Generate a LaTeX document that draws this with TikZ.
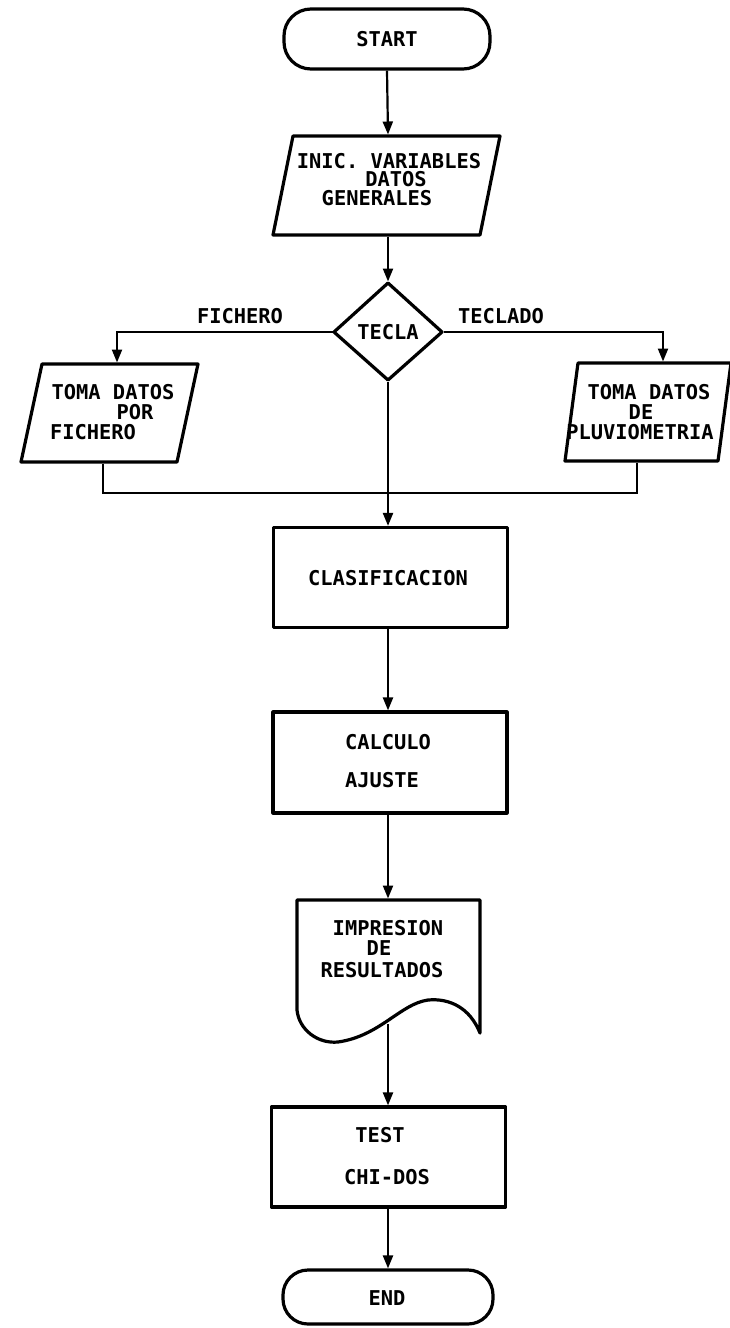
\documentclass[tikz,border=0pt]{standalone}
\usepackage{fontspec}
\newfontfamily\dotfont{DejaVu Sans Mono}
\usetikzlibrary{arrows.meta}

\begin{document}
\begin{tikzpicture}[x=1pt,y=-1pt,
  outline/.style={draw,line width=3.2pt,line join=round},
  link/.style={line width=2.2pt},
  arr/.style={link,-{Triangle[length=13pt,width=10pt]}},
  lbl/.style={font=\dotfont\bfseries\fontsize{20.4}{20}\selectfont,
    inner sep=0pt,text height=14.9pt,text depth=0pt,anchor=center},
  termbox/.style={outline,rounded corners=27pt,minimum width=206pt,minimum height=60pt,inner sep=0pt},
  procbox/.style={outline,minimum width=234pt,minimum height=100pt,inner sep=0pt}
]
\fill[white] (0,0) rectangle (729,1328);
\useasboundingbox (0,0) rectangle (729,1328);

% terminals and process boxes
\node[termbox] (start) at (387,39) {};
\node[lbl] (tstart) at (387,39) {START};

\node[procbox] (clas) at (390.5,577.5) {};
\node[lbl] (tclas) at (388,578) {CLASIFICACION};

\node[procbox,minimum height=101pt] (calc) at (390,762.5) {};
\node[lbl] (tcalc1) at (388,742) {CALCULO};
\node[lbl] (tcalc2) at (382,780) {AJUSTE};

\node[procbox] (test) at (388.5,1157) {};
\node[lbl] (ttest1) at (380,1135) {TEST};
\node[lbl] (ttest2) at (387,1177) {CHI-DOS};

\node[termbox,minimum width=210pt,minimum height=54pt,rounded corners=25pt] (end) at (388,1297) {};
\node[lbl] (tend) at (387,1298) {END};

% input parallelogram
\draw[outline] (293,136) -- (500,136) -- (480,235) -- (273,235) -- cycle;
\coordinate (inicN) at (388,134.5);
\coordinate (inicS) at (388,236.5);
\node[lbl] (tinic1) at (389,161) {INIC. VARIABLES};
\node[lbl] (tinic2) at (396,179.5) {DATOS};
\node[lbl] (tinic3) at (377,198.5) {GENERALES};

% decision
\draw[outline] (388,283) -- (442,332) -- (388,380) -- (334,332) -- cycle;
\coordinate (dN) at (388,281.5);
\coordinate (dS) at (388,381.5);
\coordinate (dW) at (332.5,332);
\coordinate (dE) at (443.5,332);
\node[lbl] (ttecla) at (388,332) {TECLA};
\node[lbl] (lfich) at (240,316) {FICHERO};
\node[lbl] (lteclado) at (501,316) {TECLADO};

% left data box
\draw[outline] (42,364) -- (198,364) -- (177,462) -- (21,462) -- cycle;
\coordinate (lboxN) at (117,362.5);
\coordinate (lboxS) at (103,463.5);
\node[lbl] (tl1) at (113,392) {TOMA DATOS};
\node[lbl] (tl2) at (135,412) {POR};
\node[lbl] (tl3) at (93,432) {FICHERO};

% right data box
\draw[outline] (578,363) -- (731,363) -- (718,461) -- (565,461) -- cycle;
\coordinate (rboxN) at (663,361.5);
\coordinate (rboxS) at (637,462.5);
\node[lbl] (tr1) at (649,392) {TOMA DATOS};
\node[lbl] (tr2) at (641,412) {DE};
\node[lbl] (tr3) at (640,432) {PLUVIOMETRIA};

% document
\draw[outline] (297,900) -- (480,900) -- (480,1033)
  .. controls (470,1008) and (450,998) .. (428,1000)
  .. controls (400,1004) and (380,1036) .. (338,1042)
  .. controls (318,1044) and (299,1030) .. (297,1010) -- cycle;
\coordinate (docN) at (388,898.5);
\coordinate (docS) at (388,1024);
\node[lbl] (tdoc1) at (388,928) {IMPRESION};
\node[lbl] (tdoc2) at (379,948) {DE};
\node[lbl] (tdoc3) at (382,970) {RESULTADOS};

% connectors
\coordinate (join) at (388,493);
\draw[arr] (start.south) -- (inicN);
\draw[arr] (inicS) -- (dN);
\draw[arr] (dW) -| (lboxN);
\draw[arr] (dE) -| (rboxN);
\draw[link] (lboxS) |- (join);
\draw[link] (rboxS) |- (join);
\draw[arr] (dS) -- (clas.north -| dS);
\draw[arr] (clas.south -| dS) -- (calc.north -| dS);
\draw[arr] (calc.south -| dS) -- (docN);
\draw[arr] (docS) -- (test.north -| docS);
\draw[arr] (test.south -| docS) -- (end.north -| docS);
\end{tikzpicture}
\end{document}
